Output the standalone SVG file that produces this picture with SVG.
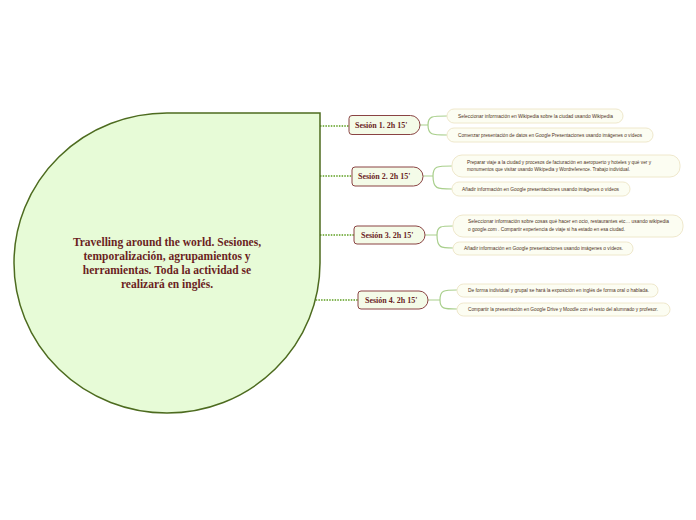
<svg xmlns="http://www.w3.org/2000/svg" width="696" height="520" viewBox="0 0 696 520">
<style>
.main{fill:#e7fbd7;stroke:#4d6b1f;stroke-width:1.5}
.mt{font-family:"Liberation Serif",serif;font-weight:bold;font-size:11.5px;fill:#6b1f1f;text-anchor:middle}
.ses{fill:#f4fbe8;stroke:#8a4343;stroke-width:1}
.st{font-family:"Liberation Serif",serif;font-weight:bold;font-size:8px;fill:#6b2525}
.ch{fill:#fcfdf2;stroke:#efe8cc;stroke-width:1}
.ct{font-family:"Liberation Sans",sans-serif;font-size:4.8px;fill:#4e3222}
.dot{fill:none;stroke:#5c9e1e;stroke-width:1.3;stroke-dasharray:1.5 1.2}
.br{fill:none;stroke:#a9cf8c;stroke-width:1.2}
</style>
<g id="connectors">
<path class="dot" d="M320,126 H349"/>
<path class="dot" d="M320,176 H352"/>
<path class="dot" d="M320,235 H354"/>
<path class="dot" d="M313,300 H358"/>
<path class="br" d="M420,125 H428 M428,125 C428,116 432,116 447,116 M428,125 C428,135 432,135 447,135"/>
<path class="br" d="M423,176 H433 M433,176 C433,166 437,166 452,166 M433,176 C433,189 437,189 452,189"/>
<path class="br" d="M425,235 H437 M437,235 C437,226 441,226 453,226 M437,235 C437,248 441,248 453,248"/>
<path class="br" d="M428,300 H440 M440,300 C440,290 444,290 457,290 M440,300 C440,309 444,309 457,309"/>
</g>
<g id="main">
<path class="main" d="M167,113 L320,113 L320,263 A153,150 0 1 1 167,113 Z"/>
<text class="mt" x="167" y="246">Travelling around the world. Sesiones,</text>
<text class="mt" x="167" y="260">temporalización, agrupamientos y</text>
<text class="mt" x="167" y="274">herramientas. Toda la actividad se</text>
<text class="mt" x="167" y="288">realizará en inglés.</text>
</g>
<g id="s1">
<path class="ses" d="M352,115.5 H410.5 A9.5,9.5 0 0 1 410.5,134.5 H352 A3,3 0 0 1 349,131.5 V118.5 A3,3 0 0 1 352,115.5 Z"/>
<text class="st" x="355" y="128">Sesión 1. 2h 15'</text>
</g>
<g id="s2">
<path class="ses" d="M355,167 H413.5 A9.5,9.5 0 0 1 413.5,186 H355 A3,3 0 0 1 352,183 V170 A3,3 0 0 1 355,167 Z"/>
<text class="st" x="358" y="179">Sesión 2. 2h 15'</text>
</g>
<g id="s3">
<path class="ses" d="M357,226 H416 A9,9 0 0 1 416,244 H357 A3,3 0 0 1 354,241 V229 A3,3 0 0 1 357,226 Z"/>
<text class="st" x="361" y="238">Sesión 3. 2h 15'</text>
</g>
<g id="s4">
<path class="ses" d="M361,291 H419 A9,9 0 0 1 419,309 H361 A3,3 0 0 1 358,306 V294 A3,3 0 0 1 361,291 Z"/>
<text class="st" x="365" y="303">Sesión 4. 2h 15'</text>
</g>
<g id="s1c1">
<rect class="ch" x="447" y="109" width="176" height="14" rx="7"/>
<text class="ct" x="458" y="117.5" textLength="155" lengthAdjust="spacingAndGlyphs">Seleccionar información en Wikipedia sobre la ciudad usando Wikipedia</text>
</g>
<g id="s1c2">
<rect class="ch" x="447" y="128" width="206" height="14" rx="7"/>
<text class="ct" x="458" y="136.5" textLength="184" lengthAdjust="spacingAndGlyphs">Comenzar presentación de datos en Google Presentaciones usando imágenes o vídeos</text>
</g>
<g id="s2c1">
<rect class="ch" x="452" y="155" width="228" height="22" rx="10"/>
<text class="ct" x="467" y="164" textLength="184" lengthAdjust="spacingAndGlyphs">Preparar viaje a la ciudad y procesos de facturación en aeropuerto y hoteles y qué ver y</text>
<text class="ct" x="467" y="171" textLength="163" lengthAdjust="spacingAndGlyphs">monumentos que visitar usando Wikipedia y  Wordreference. Trabajo individual.</text>
</g>
<g id="s2c2">
<rect class="ch" x="452" y="182" width="178" height="14" rx="7"/>
<text class="ct" x="462" y="190.5" textLength="157" lengthAdjust="spacingAndGlyphs">Añadir información en Google presentaciones usando imágenes o vídeos</text>
</g>
<g id="s3c1">
<rect class="ch" x="453" y="215" width="230" height="22" rx="10"/>
<text class="ct" x="468" y="223" textLength="201" lengthAdjust="spacingAndGlyphs">Seleccionar información sobre cosas qué hacer en ocio, restaurantes etc… usando wikipedia</text>
<text class="ct" x="468" y="230.5" textLength="157" lengthAdjust="spacingAndGlyphs">o google.com . Compartir experiencia de viaje si ha estado en esa ciudad.</text>
</g>
<g id="s3c2">
<rect class="ch" x="453" y="242" width="180" height="13" rx="6.5"/>
<text class="ct" x="464" y="250" textLength="159" lengthAdjust="spacingAndGlyphs">Añadir información en Google presentaciones usando imágenes o vídeos.</text>
</g>
<g id="s4c1">
<rect class="ch" x="457" y="284" width="201" height="13" rx="6.5"/>
<text class="ct" x="468" y="292" textLength="181" lengthAdjust="spacingAndGlyphs">De forma individual y grupal se hará la exposición en inglés de forma oral o  hablada.</text>
</g>
<g id="s4c2">
<rect class="ch" x="457" y="303" width="213" height="13" rx="6.5"/>
<text class="ct" x="468" y="311" textLength="190" lengthAdjust="spacingAndGlyphs">Compartir la presentación en Google Drive y Moodle con el resto del alumnado y profesor.</text>
</g>
</svg>
